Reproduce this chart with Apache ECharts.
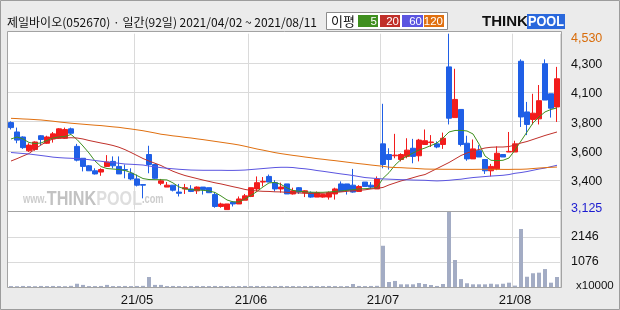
<!DOCTYPE html>
<html><head><meta charset="utf-8">
<script src="https://cdn.jsdelivr.net/npm/echarts@6/dist/echarts.min.js"></script>
<style>html,body{margin:0;padding:0;background:#ebebeb}#c{width:620px;height:310px}</style>
</head><body><div id="c"></div>
<script>
const titleText = '제일바이오(052670) · 일간(92일) 2021/04/02 ~ 2021/08/11';
const dates = [
'2021/04/02','2021/04/05','2021/04/06','2021/04/07','2021/04/08','2021/04/09','2021/04/12','2021/04/13','2021/04/14','2021/04/15','2021/04/16',
'2021/04/19','2021/04/20','2021/04/21','2021/04/22','2021/04/23','2021/04/26','2021/04/27','2021/04/28','2021/04/29','2021/04/30',
'2021/05/03','2021/05/04','2021/05/06','2021/05/07','2021/05/10','2021/05/11','2021/05/12','2021/05/13','2021/05/14',
'2021/05/17','2021/05/18','2021/05/20','2021/05/21','2021/05/24','2021/05/25','2021/05/26','2021/05/27','2021/05/28','2021/05/31',
'2021/06/01','2021/06/02','2021/06/03','2021/06/04','2021/06/07','2021/06/08','2021/06/09','2021/06/10','2021/06/11',
'2021/06/14','2021/06/15','2021/06/16','2021/06/17','2021/06/18','2021/06/21','2021/06/22','2021/06/23','2021/06/24','2021/06/25',
'2021/06/28','2021/06/29','2021/06/30',
'2021/07/01','2021/07/02','2021/07/05','2021/07/06','2021/07/07','2021/07/08','2021/07/09','2021/07/12','2021/07/13','2021/07/14',
'2021/07/15','2021/07/16','2021/07/19','2021/07/20','2021/07/21','2021/07/22','2021/07/23','2021/07/26','2021/07/27','2021/07/28',
'2021/07/29','2021/07/30',
'2021/08/02','2021/08/03','2021/08/04','2021/08/05','2021/08/06','2021/08/09','2021/08/10','2021/08/11'];
const openP = [3820,3745,3705,3595,3605,3715,3655,3690,3695,3695,3770,3630,3535,3475,3435,3425,3470,3510,3470,3445,3415,
3370,3325,3565,3485,3335,3305,3320,3265,3290,3290,3275,3305,3300,3245,3150,3125,3185,3170,3200,
3230,3290,3345,3390,3340,3290,3330,3250,3300,3260,3260,3225,3225,3225,3250,3330,3330,3320,3270,3345,3320,3290,
3650,3565,3555,3525,3550,3615,3555,3645,3660,3650,3645,4265,3860,3925,3655,3530,3595,3525,3435,3450,3565,3585,
3585,4310,3905,3845,3850,4290,4050,3945];
const closeP = [3780,3680,3620,3640,3665,3685,3705,3730,3770,3765,3735,3520,3470,3435,3410,3445,3505,3475,3410,3440,3370,
3320,3320,3485,3375,3355,3320,3280,3255,3300,3270,3305,3285,3260,3150,3170,3170,3170,3210,3235,
3300,3340,3350,3345,3290,3305,3250,3275,3265,3275,3225,3260,3245,3260,3290,3270,3280,3265,3310,3310,3305,3370,
3485,3525,3560,3565,3600,3550,3680,3675,3665,3625,3695,3855,4005,3645,3530,3610,3545,3435,3470,3575,3545,3590,
3650,3865,3805,3895,3995,4000,3935,4170];
const lowP = [3765,3655,3610,3585,3595,3640,3650,3660,3690,3690,3725,3510,3430,3435,3405,3395,3465,3455,3410,3375,3360,
3310,3215,3415,3370,3320,3305,3270,3230,3250,3265,3250,3245,3260,3140,3140,3125,3150,3170,3200,
3225,3270,3310,3345,3270,3260,3250,3245,3250,3225,3220,3225,3220,3205,3205,3270,3245,3260,3270,3310,3290,3290,
3455,3445,3535,3510,3535,3495,3510,3645,3625,3615,3610,3805,3860,3630,3515,3530,3545,3410,3390,3440,3545,3585,
3585,3785,3720,3805,3805,4000,3860,3825];
const highP = [3830,3780,3710,3655,3670,3720,3715,3745,3775,3780,3780,3650,3535,3480,3455,3455,3560,3550,3550,3485,3455,
3405,3325,3635,3490,3370,3345,3320,3330,3330,3320,3310,3305,3300,3265,3180,3170,3190,3230,3250,
3300,3390,3385,3405,3360,3340,3330,3300,3305,3280,3270,3270,3245,3270,3300,3350,3330,3450,3320,3345,3345,3390,
3970,3615,3730,3575,3695,3690,3690,3765,3720,3670,3740,4530,4250,3925,3715,3685,3640,3525,3490,3630,3565,3745,
3675,4325,3985,4050,4120,4325,4050,4265];
const volume = [40,35,45,40,35,45,40,45,40,35,50,140,90,40,40,45,90,40,40,45,40,
45,50,430,90,90,40,45,40,35,40,45,40,40,45,40,40,35,40,45,
40,45,40,35,40,45,40,40,35,40,45,40,40,45,40,35,40,130,45,40,45,50,
1770,215,260,115,115,115,170,130,85,45,130,3219,1160,340,160,115,115,115,140,115,140,185,
60,2490,440,590,615,770,185,430];
const ma5 = [3689,3705,3689,3661,3653,3657,3677,3697,3705,3709,3725,3685,3633,3577,3513,3469,3453,3449,3445,3437,
3421,3397,3373,3365,3364,3364,3362,3338,3306,3290,3284,3282,3279,3274,3262,3234,3202,3187,3186,3210,
3238,3270,3306,3338,3342,3326,3298,3278,3271,3267,3264,3263,3263,3266,3270,3274,3279,3284,3290,3292,
3295,3300,3375,3420,3480,3525,3551,3577,3601,3617,3637,3657,3697,3745,3757,3758,3753,3729,3649,3553,
3519,3516,3519,3537,3601,3673,3745,3817,3865,3905,3925,3937];
const ma20 = [3513,3532,3553,3573,3609,3641,3669,3689,3697,3697,3699,3697,3689,3677,3667,3657,3648,3637,3623,3604,
3581,3557,3533,3513,3495,3477,3453,3431,3413,3397,3385,3373,3361,3350,3339,3330,3319,3308,3298,3286,
3278,3274,3271,3270,3267,3266,3263,3260,3258,3255,3254,3254,3255,3258,3262,3266,3271,3275,3279,3283,
3290,3295,3302,3322,3338,3354,3366,3380,3394,3405,3429,3453,3477,3501,3529,3557,3577,3593,3605,3617,
3623,3625,3625,3629,3641,3657,3669,3685,3701,3717,3731,3745];
const ma60 = [3581,3577,3573,3569,3563,3557,3551,3544,3540,3537,3535,3533,3529,3524,3517,3511,3505,3500,3495,3489,
3487,3484,3481,3473,3467,3460,3455,3451,3447,3444,3441,3440,3439,3439,3439,3439,3438,3438,3439,3441,
3445,3449,3453,3457,3461,3463,3463,3461,3455,3451,3445,3437,3431,3424,3417,3410,3404,3397,3389,3381,
3377,3373,3370,3368,3366,3364,3363,3361,3360,3359,3356,3354,3356,3359,3364,3368,3375,3381,3385,3389,
3393,3396,3399,3405,3415,3421,3429,3439,3449,3457,3468,3479];
const ma120 = [3854,3852,3849,3847,3844,3841,3836,3831,3825,3820,3815,3811,3807,3803,3799,3796,3791,3786,3782,3775,
3769,3762,3755,3746,3737,3727,3721,3714,3709,3702,3697,3690,3684,3677,3670,3663,3656,3649,3641,3631,
3620,3609,3600,3590,3580,3572,3565,3558,3552,3545,3539,3532,3527,3521,3516,3510,3504,3498,3492,3487,
3481,3476,3471,3464,3461,3460,3457,3455,3452,3449,3448,3448,3447,3447,3447,3446,3446,3446,3447,3447,
3447,3447,3446,3446,3447,3447,3449,3453,3457,3460,3463,3465];
const priceTickLabels = ['3,125','3,400','3,600','3,800','4,100','4,300','4,530'];
const volTickLabels = ['x10000','1076','2146',''];
const monthLabels = ['21/05','21/06','21/07','21/08'];
const maLegend = ['5','20','60','120'];

const C_UP = '#f21c1c', C_DN = '#1f5fe6';
const MA_COLORS = ['#3f8f1f','#c0302a','#5b55e0','#e07010'];
const GRID_C = '#dadada';

const monthStarts = [];
dates.forEach((d, i) => { if (i > 0 && d.slice(5, 7) !== dates[i - 1].slice(5, 7)) monthStarts.push(i); });
const isMonthStart = (i) => monthStarts.indexOf(i) >= 0;

const pMin = Math.min(...lowP), pMax = Math.max(...highP);
const vMax = Math.max(...volume);

const chart = echarts.init(document.getElementById('c'), null, {renderer: 'canvas'});
const xBase = (gi) => ({
  type: 'category', gridIndex: gi, data: dates, boundaryGap: true,
  axisLine: {show: false}, axisTick: {show: false},
  splitLine: {show: true, interval: (i) => isMonthStart(i), lineStyle: {color: GRID_C, width: 1}}
});
const x0 = xBase(0); x0.axisLabel = {show: false};
const x1 = xBase(1);
x1.axisLabel = {show: true, interval: (i) => isMonthStart(i), margin: 7,
  formatter: (v, i) => monthLabels[monthStarts.indexOf(i)] || '',
  color: '#111', fontSize: 13, fontFamily: 'Liberation Sans'};

const option = {
  animation: false,
  backgroundColor: '#ebebeb',
  grid: [
    {left: 8, right: 60, top: 33.7, height: 175.9},
    {left: 8, right: 60, top: 212, height: 75}
  ],
  xAxis: [x0, x1],
  yAxis: [
    {type: 'value', gridIndex: 0, position: 'right', min: pMin, max: pMax, interval: (pMax - pMin) / 6,
     axisLine: {show: false}, axisTick: {show: false},
     splitLine: {show: true, showMinLine: false, showMaxLine: false, lineStyle: {color: GRID_C}},
     axisLabel: {margin: 11, fontSize: 12.5, fontFamily: 'Liberation Sans',
       formatter: (v, i) => {
         const t = priceTickLabels[i] || '';
         if (i === 0) return '{b|' + t + '}';
         if (i === priceTickLabels.length - 1) return '{o|' + t + '}';
         return '{n|' + t + '}';
       },
       rich: {
         n: {color: '#111', fontSize: 12.5, fontFamily: 'Liberation Sans', padding: [3, 0, 0, 0]},
         o: {color: '#d86c0a', fontSize: 12.5, fontFamily: 'Liberation Sans', padding: [9, 0, 0, 0]},
         b: {color: '#1c1cd0', fontSize: 12.5, fontFamily: 'Liberation Sans', padding: [0, 0, 3, 0]}
       }}},
    {type: 'value', gridIndex: 1, position: 'right', min: 0, max: vMax, interval: vMax / 3,
     axisLine: {show: false}, axisTick: {show: false},
     splitLine: {show: true, showMinLine: false, showMaxLine: false, lineStyle: {color: GRID_C}},
     axisLabel: {margin: 11, fontSize: 12.5, fontFamily: 'Liberation Sans', color: '#111',
       formatter: (v, i) => i === 0 ? '{u|' + volTickLabels[0] + '}' : (volTickLabels[i] || ''),
       rich: {u: {color: '#111', fontSize: 11.5, fontFamily: 'Liberation Sans', padding: [0, 0, 2, 5]}}}}
  ],
  series: [
    {type: 'candlestick', xAxisIndex: 0, yAxisIndex: 0, barWidth: 5,
     data: dates.map((d, i) => [openP[i], closeP[i], lowP[i], highP[i]]),
     itemStyle: {color: C_UP, color0: C_DN, borderColor: C_UP, borderColor0: C_DN, borderWidth: 1}},
    ...[ma5, ma20, ma60, ma120].map((arr, k) => ({
      type: 'line', xAxisIndex: 0, yAxisIndex: 0, data: arr, showSymbol: false, symbol: 'none',
      lineStyle: {color: MA_COLORS[k], width: 1}, z: 3
    })),
    {type: 'bar', xAxisIndex: 1, yAxisIndex: 1, data: volume, barWidth: 4,
     itemStyle: {color: '#a3acc4'}}
  ],
  graphic: [
    {type: 'rect', z: -20, silent: true, shape: {x: 0.5, y: 0.5, width: 619, height: 309},
     style: {fill: '#ebebeb', stroke: '#9c9c9c', lineWidth: 1}},
    {type: 'rect', z: -10, silent: true, shape: {x: 7.5, y: 31.5, width: 554, height: 256},
     style: {fill: '#ffffff', stroke: '#a3a3a3', lineWidth: 1}},
    {type: 'line', z: 10, silent: true, shape: {x1: 7.5, y1: 211.5, x2: 561.5, y2: 211.5},
     style: {stroke: '#a3a3a3', lineWidth: 1}},
    {type: 'text', z: -5, silent: true, x: 23, y: 210, scaleX: 0.77,
     style: {text: '{a|www.}{b|THINK}{c|POOL}{a|.com}', verticalAlign: 'bottom',
       rich: {a: {fontSize: 12, fontWeight: 'bold', fontFamily: 'Liberation Sans', fill: '#cdcdcd', color: '#cdcdcd'},
              b: {fontSize: 21, fontWeight: 'bold', fontFamily: 'Liberation Sans', fill: '#c2c2c2', color: '#c2c2c2'},
              c: {fontSize: 21, fontWeight: 'bold', fontFamily: 'Liberation Sans', fill: '#dedede', color: '#dedede'}}}},
    {type: 'text', silent: true, x: 7, y: 22,
     style: {text: titleText, verticalAlign: 'middle', fill: '#111', font: '12px "Noto Sans CJK KR"'}},
    {type: 'rect', silent: true, shape: {x: 326.5, y: 12.5, width: 121, height: 17},
     style: {fill: '#fff', stroke: '#8c8c8c', lineWidth: 1}},
    {type: 'text', silent: true, x: 331, y: 21,
     style: {text: '이평', verticalAlign: 'middle', fill: '#111', font: '13px "Noto Sans CJK KR"'}},
    ...[[358, 20], [380, 20], [402, 21], [424, 20]].map((b, k) => ({
      type: 'group', silent: true, children: [
        {type: 'rect', shape: {x: b[0], y: 15, width: b[1], height: 12}, style: {fill: MA_COLORS[k]}},
        {type: 'text', x: b[0] + b[1] - 1, y: 21.5,
         style: {text: maLegend[k], align: 'right', verticalAlign: 'middle', fill: '#fff', font: '11.5px "Liberation Sans"'}}
      ]})),
    {type: 'text', silent: true, x: 482, y: 21.5,
     style: {text: 'THINK', verticalAlign: 'middle', fill: '#111', font: 'bold 15px "Liberation Sans"'}},
    {type: 'rect', silent: true, shape: {x: 527, y: 14, width: 38, height: 15}, style: {fill: '#2a68dc'}},
    {type: 'text', silent: true, x: 546, y: 21.5, scaleX: 0.85,
     style: {text: 'POOL', align: 'center', verticalAlign: 'middle', fill: '#fff', font: 'bold 15px "Liberation Sans"'}}
  ]
};
chart.setOption(option);
</script></body></html>
